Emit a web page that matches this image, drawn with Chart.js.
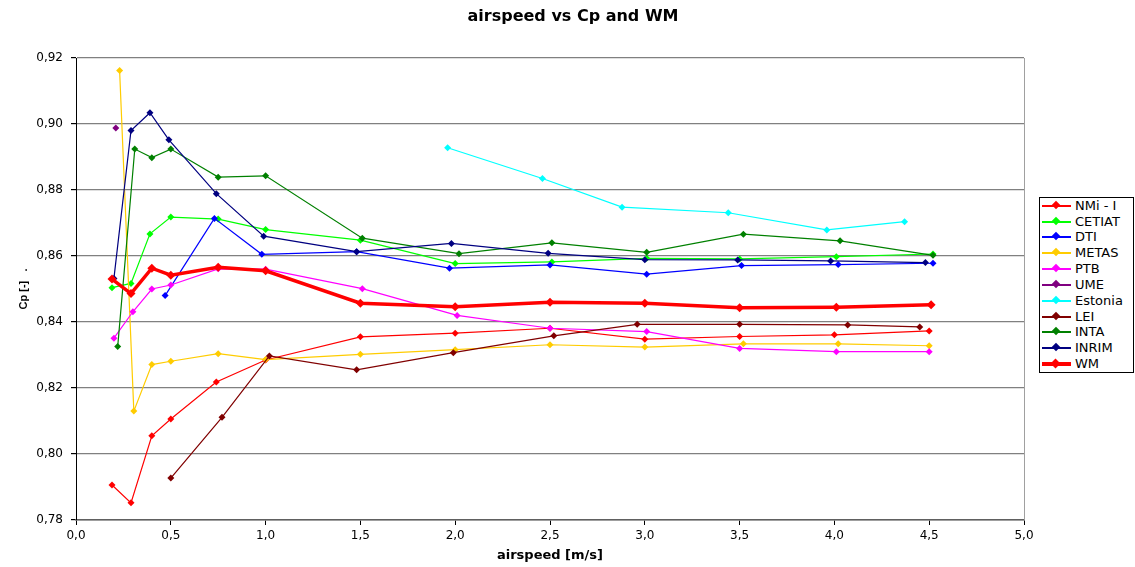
<!DOCTYPE html>
<html><head><meta charset="utf-8">
<script src="https://cdn.jsdelivr.net/npm/chart.js@4.4.1/dist/chart.umd.min.js"></script>
<style>
html,body{margin:0;padding:0;background:#fff;}
#wrap{position:relative;width:1135px;height:567px;overflow:hidden;}
#title{position:absolute;left:0;width:1146px;top:8px;line-height:16px;text-align:center;font-family:"DejaVu Sans";font-weight:bold;font-size:16px;color:#000;}
#legend{position:absolute;left:1039px;top:197px;width:95px;height:176px;border:1px solid #000;box-sizing:border-box;background:#fff;}
.row{position:absolute;left:0;width:93px;height:14px;}
.ln{position:absolute;left:2px;width:29px;top:6px;height:2px;}
.dm{position:absolute;left:13px;top:3px;width:6px;height:6px;transform:rotate(45deg);}
.tx{position:absolute;left:35px;top:0;line-height:14px;font-family:"DejaVu Sans";font-size:13px;color:#000;white-space:nowrap;}
canvas{position:absolute;left:0;top:0;}
</style></head>
<body><div id="wrap">
<canvas id="c" width="1135" height="567"></canvas>
<div id="title">airspeed vs Cp and WM</div>
<div id="legend"></div>
</div>
<script>
// ---- data ----
const seriesNames = ["NMi - I","CETIAT","DTI","METAS","PTB","UME","Estonia","LEI","INTA","INRIM","WM"];
const seriesColors = ["#FF0000","#00FF00","#0000FF","#FFCC00","#FF00FF","#800080","#00FFFF","#800000","#008000","#000080","#FF0000"];

const nmiX = [0.19,0.29,0.40,0.50,0.74,1.00,1.50,2.00,2.50,3.00,3.50,4.00,4.50];
const nmiY = [0.7906,0.7852,0.8055,0.8106,0.8218,0.8285,0.8355,0.8366,0.8381,0.8348,0.8356,0.8361,0.8373];
const cetiatX = [0.19,0.29,0.39,0.50,0.75,1.00,1.50,2.00,2.51,3.01,3.50,4.01,4.52];
const cetiatY = [0.8504,0.8517,0.8667,0.8718,0.8712,0.8680,0.8648,0.8577,0.8582,0.8593,0.8591,0.8598,0.8606];
const dtiX = [0.47,0.73,0.98,1.48,1.97,2.50,3.01,3.51,4.02,4.52];
const dtiY = [0.8480,0.8714,0.8605,0.8613,0.8563,0.8573,0.8545,0.8571,0.8574,0.8578];
const metasX = [0.23,0.305,0.40,0.50,0.75,1.00,1.50,2.00,2.50,3.00,3.52,4.02,4.50];
const metasY = [0.9162,0.8130,0.8271,0.8281,0.8304,0.8286,0.8302,0.8316,0.8331,0.8324,0.8334,0.8334,0.8328];
const ptbX = [0.20,0.30,0.40,0.50,0.75,1.00,1.51,2.01,2.50,3.01,3.50,4.01,4.50];
const ptbY = [0.8351,0.8431,0.8500,0.8512,0.8561,0.8560,0.8501,0.8420,0.8381,0.8371,0.8320,0.8310,0.8310];
const umeX = [0.21];
const umeY = [0.8988];
const estoniaX = [1.96,2.46,2.88,3.44,3.96,4.37];
const estoniaY = [0.8928,0.8835,0.8748,0.8731,0.8679,0.8704];
const leiX = [0.50,0.77,1.02,1.48,1.99,2.52,2.96,3.50,4.07,4.45];
const leiY = [0.7927,0.8111,0.8297,0.8255,0.8307,0.8358,0.8393,0.8393,0.8391,0.8385];
const intaX = [0.22,0.31,0.40,0.50,0.75,1.00,1.51,2.02,2.51,3.01,3.52,4.03,4.52];
const intaY = [0.8326,0.8924,0.8898,0.8924,0.8839,0.8843,0.8654,0.8607,0.8640,0.8611,0.8666,0.8646,0.8602];
const inrimX = [0.20,0.29,0.39,0.49,0.74,0.99,1.48,1.98,2.49,3.00,3.49,3.98,4.48];
const inrimY = [0.8532,0.8980,0.9034,0.8952,0.8789,0.8660,0.8613,0.8638,0.8608,0.8589,0.8588,0.8585,0.8580];
const wmX = [0.19,0.29,0.40,0.50,0.75,1.00,1.50,2.00,2.50,3.00,3.50,4.01,4.51];
const wmY = [0.8530,0.8486,0.8563,0.8542,0.8566,0.8555,0.8457,0.8446,0.8460,0.8457,0.8443,0.8445,0.8452];

const xTickMin = 0, xTickMax = 5, xTickStep = 0.5;
const yTickMin = 0.78, yTickMax = 0.92, yTickStep = 0.02;

const xs = [nmiX,cetiatX,dtiX,metasX,ptbX,umeX,estoniaX,leiX,intaX,inrimX,wmX];
const ys = [nmiY,cetiatY,dtiY,metasY,ptbY,umeY,estoniaY,leiY,intaY,inrimY,wmY];

const n = seriesNames.length;
const datasets = seriesNames.map((name,i)=>{
  const isWM = name === "WM";
  return {
    label: name,
    data: xs[i].map((x,j)=>({x:x,y:ys[i][j]})),
    borderColor: seriesColors[i],
    backgroundColor: seriesColors[i],
    borderWidth: isWM ? 3.5 : 1.2,
    pointStyle: 'rectRot',
    pointRadius: isWM ? 4.5 : 3.5,
    pointBorderWidth: 0,
    pointBackgroundColor: seriesColors[i],
    tension: 0,
    showLine: true,
    order: n - 1 - i
  };
});

const rightBorder = {
  id:'rightBorder',
  beforeDatasetsDraw(chart){
    const {ctx, chartArea:a} = chart;
    ctx.save();
    ctx.strokeStyle = '#a0a0a0';
    ctx.lineWidth = 1;
    ctx.beginPath();
    ctx.moveTo(Math.round(a.right)+0.5, a.top);
    ctx.lineTo(Math.round(a.right)+0.5, a.bottom);
    ctx.stroke();
    ctx.restore();
  }
};

new Chart(document.getElementById('c'), {
  type: 'scatter',
  data: { datasets },
  options: {
    responsive: false,
    devicePixelRatio: 1,
    animation: false,
    layout: { padding: { left: 0, top: 58, right: 111, bottom: 0 } },
    plugins: { legend: { display: false }, tooltip: { enabled: false }, title: { display: false } },
    scales: {
      x: {
        type: 'linear', min: xTickMin, max: xTickMax,
        afterFit(s){ s.height = 47; },
        ticks: { stepSize: xTickStep, padding: 4, color: '#000',
          font: { family: 'DejaVu Sans', size: 12 },
          callback: v => v.toFixed(1).replace('.', ',') },
        grid: { drawOnChartArea: false, drawTicks: true, tickLength: 5, tickColor: '#000' },
        border: { color: '#606060', width: 1.5 },
        title: { display: true, text: 'airspeed [m/s]', color: '#000',
          font: { family: 'DejaVu Sans', size: 13, weight: 'bold' },
          padding: { top: 0, bottom: 4 } }
      },
      y: {
        type: 'linear', min: yTickMin, max: yTickMax,
        afterFit(s){ s.width = 76; },
        ticks: { stepSize: yTickStep, padding: 8, color: '#000',
          font: { family: 'DejaVu Sans', size: 12 },
          callback: v => v.toFixed(2).replace('.', ',') },
        grid: { color: '#808080', lineWidth: 1.2, tickLength: 5, tickColor: '#000' },
        border: { color: '#000', width: 1 },
        title: { display: true, text: 'Cp [-]   .', color: '#000',
          font: { family: 'Liberation Sans', size: 11, weight: 'bold' },
          padding: { top: 17, bottom: 0 } }
      }
    }
  },
  plugins: [rightBorder]
});

// legend built from series arrays
const leg = document.getElementById('legend');
seriesNames.forEach((name,i)=>{
  const r = document.createElement('div');
  r.className = 'row';
  r.style.top = (0.7 + i*15.83) + 'px';
  const isWM = name === "WM";
  r.innerHTML = '<div class="ln" style="background:'+seriesColors[i]+';'+(isWM?'height:4px;top:5px;':'')+'"></div>'+
    '<div class="dm" style="background:'+seriesColors[i]+';'+(isWM?'width:7px;height:7px;left:12px;top:3px;':'')+'"></div>'+
    '<div class="tx">'+name+'</div>';
  leg.appendChild(r);
});
</script>
</body></html>
